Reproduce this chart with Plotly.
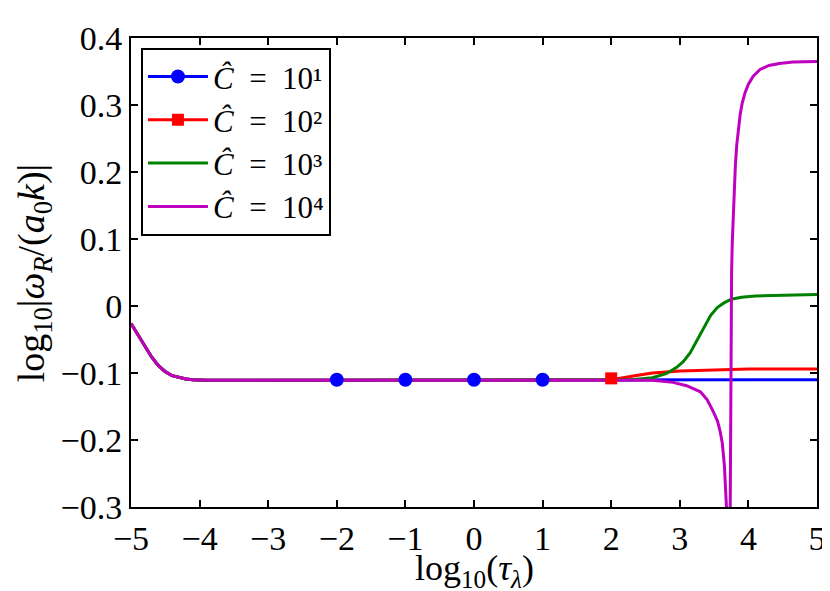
import plotly.graph_objects as go

# shared left-hand descent (all four curves overlap here)
x_left = [-5.0, -4.9, -4.8, -4.7, -4.6, -4.5, -4.4, -4.3, -4.2, -4.1, -3.9, -3.5]
y_left = [-0.026, -0.043, -0.060, -0.076, -0.089, -0.098, -0.104, -0.107, -0.109,
          -0.110, -0.111, -0.111]

# C = 10^1
x_c1 = x_left + [5.0]
y_c1 = y_left + [-0.110]

# C = 10^2
x_c2 = x_left + [2.0, 2.3, 2.6, 3.0, 3.5, 4.0, 5.0]
y_c2 = y_left + [-0.110, -0.105, -0.100, -0.097, -0.095, -0.094, -0.094]

# C = 10^3
x_c3 = x_left + [2.3, 2.6, 2.8, 2.95, 3.05, 3.15, 3.25, 3.35, 3.45, 3.55, 3.65,
                 3.75, 3.9, 4.1, 4.4, 5.0]
y_c3 = y_left + [-0.110, -0.107, -0.101, -0.092, -0.083, -0.070, -0.052, -0.032,
                 -0.014, -0.002, 0.005, 0.010, 0.013, 0.015, 0.016, 0.017]

# C = 10^4
x_c4 = x_left + [2.6, 2.9, 3.1, 3.3, 3.4, 3.49, 3.55, 3.59, 3.62, 3.65, 3.67,
                 3.68, 3.70, 3.725, 3.735, 3.745, 3.755, 3.765, 3.78, 3.795,
                 3.81, 3.83, 3.855, 3.88, 3.91, 3.95, 4.0, 4.07, 4.17, 4.3,
                 4.45, 4.65, 5.0]
y_c4 = y_left + [-0.111, -0.114, -0.119, -0.128, -0.140, -0.158, -0.172, -0.188,
                 -0.205, -0.238, -0.270, -0.300, -0.380, -0.380, -0.300, -0.050,
                 0.050, 0.095, 0.140, 0.180, 0.210, 0.240, 0.266, 0.286, 0.303,
                 0.318, 0.331, 0.343, 0.353, 0.359, 0.362, 0.364, 0.365]

# marker positions
x_mk1 = [-2, -1, 0, 1]
y_mk1 = [-0.110, -0.110, -0.110, -0.110]
x_mk2 = [2]
y_mk2 = [-0.108]

names = ["<i>Ĉ</i>\u2002=\u200210\u00b9", "<i>Ĉ</i>\u2002=\u200210\u00b2",
         "<i>Ĉ</i>\u2002=\u200210\u00b3", "<i>Ĉ</i>\u2002=\u200210\u2074"]
colors = ["#0000ff", "#ff0000", "#008000", "#bf00bf"]

x_ticks = [-5, -4, -3, -2, -1, 0, 1, 2, 3, 4, 5]
x_tick_text = ["\u22125", "\u22124", "\u22123", "\u22122", "\u22121", "0", "1", "2", "3", "4", "5"]
y_ticks = [-0.3, -0.2, -0.1, 0, 0.1, 0.2, 0.3, 0.4]
y_tick_text = ["\u22120.3", "\u22120.2", "\u22120.1", "0", "0.1", "0.2", "0.3", "0.4"]

x_title = "log<sub>10</sub>(<i>τ</i><sub><i>λ</i></sub>)"
y_title = "log<sub>10</sub>|<i>ω</i><sub><i>R</i></sub>/(<i>a</i><sub>0</sub><i>k</i>)|"

FONT = "Liberation Serif"
fig = go.Figure()

series = [(x_c1, y_c1), (x_c2, y_c2), (x_c3, y_c3), (x_c4, y_c4)]
for (xs, ys), c in zip(series, colors):
    fig.add_trace(go.Scatter(x=xs, y=ys, mode="lines", line=dict(color=c, width=3),
                             showlegend=False, hoverinfo="skip"))

fig.add_trace(go.Scatter(x=x_mk1, y=y_mk1, mode="markers",
                         marker=dict(color=colors[0], size=14, symbol="circle"),
                         showlegend=False))
fig.add_trace(go.Scatter(x=x_mk2, y=y_mk2, mode="markers",
                         marker=dict(color=colors[1], size=12, symbol="square"),
                         showlegend=False))

# legend entries
legend_modes = ["lines+markers", "lines+markers", "lines", "lines"]
legend_symbols = ["circle", "square", "circle", "circle"]
legend_sizes = [14, 12, 1, 1]
for nm, c, md, sy, sz in zip(names, colors, legend_modes, legend_symbols, legend_sizes):
    fig.add_trace(go.Scatter(x=[None], y=[None], mode=md, name=nm,
                             line=dict(color=c, width=3),
                             marker=dict(color=c, size=sz, symbol=sy)))

fig.update_layout(
    width=830, height=591,
    margin=dict(l=123, r=15, t=27, b=92),
    paper_bgcolor="white", plot_bgcolor="white",
    font=dict(family=FONT, size=34, color="black"),
    legend=dict(x=0.0145, y=0.979, xanchor="left", yanchor="top",
                bgcolor="white", bordercolor="black", borderwidth=2,
                font=dict(family=FONT, size=31), itemwidth=60,
                tracegroupgap=0, itemsizing="trace"),
    showlegend=True,
    annotations=[
        dict(text=x_title, xref="paper", yref="paper", x=0.5, y=-0.136,
             xanchor="center", yanchor="middle", showarrow=False,
             font=dict(family=FONT, size=36)),
        dict(text=y_title, xref="paper", yref="paper", x=-0.1416, y=0.5,
             xanchor="center", yanchor="middle", showarrow=False, textangle=-90,
             font=dict(family=FONT, size=38)),
    ],
)
fig.update_xaxes(range=[-5, 5], tickvals=x_ticks, ticktext=x_tick_text,
                 ticks="inside", ticklen=7, tickwidth=1.5, tickcolor="black",
                 showline=True, linecolor="black", linewidth=2, mirror="ticks",
                 showgrid=False, zeroline=False,
                 tickfont=dict(family=FONT, size=34))
fig.update_yaxes(range=[-0.3, 0.4], tickvals=y_ticks, ticktext=y_tick_text,
                 ticks="inside", ticklen=7, tickwidth=1.5, tickcolor="black",
                 showline=True, linecolor="black", linewidth=2, mirror="ticks",
                 showgrid=False, zeroline=False,
                 tickfont=dict(family=FONT, size=34))

fig.write_html("out.html")
